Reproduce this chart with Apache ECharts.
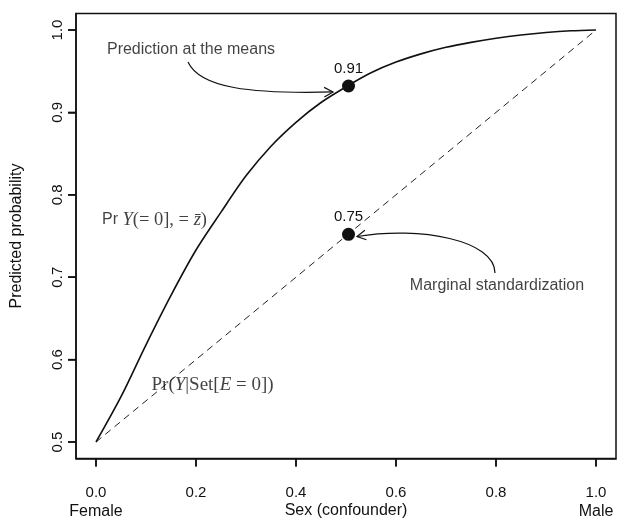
<!DOCTYPE html>
<html>
<head>
<meta charset="utf-8">
<script src="https://cdn.jsdelivr.net/npm/echarts@6/dist/echarts.min.js"></script>
<style>html,body{margin:0;padding:0;background:#fff}#c{width:617px;height:524px}</style>
</head>
<body>
<div id="c"></div>
<script>
// ---- data ----
const xTicks = [0, 0.2, 0.4, 0.6, 0.8, 1.0];
const yTicks = [0.5, 0.6, 0.7, 0.8, 0.9, 1.0];
const xEndNames = ['Female', 'Male'];
const curveX = [0, 0.05, 0.10, 0.15, 0.20, 0.25, 0.30, 0.35, 0.40, 0.45, 0.50, 0.55, 0.60, 0.65, 0.70, 0.75, 0.80, 0.85, 0.90, 0.95, 1.00];
const curveY = [0.500, 0.555, 0.618, 0.678, 0.733, 0.779, 0.823, 0.859, 0.888, 0.912, 0.931, 0.948, 0.961, 0.971, 0.979, 0.985, 0.990, 0.994, 0.997, 0.999, 1.000];
const diagX = [0, 1];
const diagY = [0.5, 1.0];
const pointX = [0.505, 0.505];
const pointY = [0.932, 0.752];
const pointLabels = ['0.91', '0.75'];
const noteTexts = ['Prediction at the means', 'Marginal standardization', '{s|Pr }{i|Y}{r|(= 0], = }{i|z\u0304}{r|)}', '{r2|Pr(}{i2|Y}{r2||Set[}{i2|E}{r2| = 0])}'];
const noteX = [0.19, 0.802, 0.012, 0.111];
const noteY = [0.9757, 0.6893, 0.7694, 0.5692];
const noteAlign = ['center', 'center', 'left', 'left'];
const arrowPaths = [
  [[0.184, 0.9612], [0.208, 0.9296], [0.308, 0.9223], [0.474, 0.9248]],
  [[0.798, 0.7051], [0.798, 0.7451], [0.648, 0.7621], [0.522, 0.7494]]
];

// ---- chart ----
const ink = '#111';
const sans = 'Liberation Sans, Arial, Helvetica, sans-serif';
const serif = 'Liberation Serif, Times New Roman, serif';
const xMin = -0.04, xMax = 1.04, yMin = 0.48, yMax = 1.02;
const chart = echarts.init(document.getElementById('c'), null, {renderer: 'canvas'});

const rich = {
  s: {fontFamily: sans, fontSize: 16, color: ink},
  r: {fontFamily: serif, fontSize: 18.5, color: ink},
  i: {fontFamily: serif, fontSize: 18.5, fontStyle: 'italic', color: ink},
  r2: {fontFamily: serif, fontSize: 19, color: ink},
  i2: {fontFamily: serif, fontSize: 19, fontStyle: 'italic', color: ink},
  b: {fontFamily: sans, fontSize: 16, color: ink, lineHeight: 20}
};

// tick marks drawn through the axes' scales
const tickItems = xTicks.map(v => [v, yMin, 0]).concat(yTicks.map(v => [xMin, v, 1]));

chart.setOption({
  animation: false,
  backgroundColor: '#fff',
  grid: {left: 76, right: 1, top: 13.5, bottom: 65.5, containLabel: false,
    show: true, borderColor: '#111', borderWidth: 1.5, backgroundColor: 'transparent'},
  xAxis: {
    type: 'value', min: xMin, max: xMax,
    name: 'Sex (confounder)', nameLocation: 'middle', nameGap: 44, nameMoveOverlap: false,
    nameTextStyle: {fontFamily: sans, fontSize: 16, color: ink},
    axisLine: {show: true, onZero: false, lineStyle: {color: '#111', width: 1.5}},
    splitLine: {show: false},
    axisTick: {show: true, inside: false, customValues: xTicks, length: 8, lineStyle: {color: '#111', width: 1.5}},
    axisLabel: {
      customValues: xTicks, margin: 25, fontFamily: sans, fontSize: 15, color: ink, lineHeight: 18,
      formatter: function (v) {
        const t = v.toFixed(1);
        if (Math.abs(v) < 1e-9) return t + '\n{b|' + xEndNames[0] + '}';
        if (Math.abs(v - 1) < 1e-9) return t + '\n{b|' + xEndNames[1] + '}';
        return t;
      },
      rich: rich
    }
  },
  yAxis: {
    type: 'value', min: yMin, max: yMax,
    name: 'Predicted probability', nameLocation: 'middle', nameGap: 51, nameRotate: 90, nameMoveOverlap: false,
    nameTextStyle: {fontFamily: sans, fontSize: 16, color: ink},
    axisLine: {show: true, onZero: false, lineStyle: {color: '#111', width: 1.5}},
    splitLine: {show: false},
    axisTick: {show: true, inside: false, customValues: yTicks, length: 8, lineStyle: {color: '#111', width: 1.5}},
    axisLabel: {customValues: yTicks, rotate: 90, margin: 11, fontFamily: sans, fontSize: 15, color: ink,
      formatter: function (v) { return v.toFixed(1); }}
  },
  series: [
    {
      type: 'line', data: curveX.map((x, i) => [x, curveY[i]]), smooth: 0.3, symbol: 'none',
      lineStyle: {color: '#111', width: 1.6}, z: 3
    },
    {
      type: 'line', data: diagX.map((x, i) => [x, diagY[i]]), symbol: 'none',
      lineStyle: {color: '#222', width: 1, type: [7, 5]}, z: 2
    },
    {
      type: 'scatter', data: pointX.map((x, i) => ({value: [x, pointY[i]], name: pointLabels[i]})),
      symbol: 'circle', symbolSize: 13, itemStyle: {color: '#111', opacity: 1}, z: 5,
      label: {show: true, position: 'top', distance: 3, formatter: '{b}', fontFamily: sans, fontSize: 15, color: ink}
    },
    {
      type: 'scatter', symbolSize: 0, silent: true, z: 6,
      data: noteTexts.map((t, i) => ({
        value: [noteX[i], noteY[i]], name: t,
        label: {show: true, position: 'inside', align: noteAlign[i], verticalAlign: 'middle',
          formatter: t, fontFamily: sans, fontSize: 16, color: ink, rich: rich}
      }))
    },
    {
      type: 'custom', silent: true, z: 4,
      data: arrowPaths.map((p, i) => [p[3][0], p[3][1]]),
      renderItem: function (params, api) {
        const pts = arrowPaths[params.dataIndex].map(p => api.coord(p));
        const p0 = pts[0], c1 = pts[1], c2 = pts[2], p3 = pts[3];
        const ang = Math.atan2(p3[1] - c2[1], p3[0] - c2[0]);
        const L = 10, a = 0.5;
        const h1 = [p3[0] - L * Math.cos(ang - a), p3[1] - L * Math.sin(ang - a)];
        const h2 = [p3[0] - L * Math.cos(ang + a), p3[1] - L * Math.sin(ang + a)];
        return {
          type: 'group',
          children: [
            {type: 'bezierCurve', shape: {x1: p0[0], y1: p0[1], cpx1: c1[0], cpy1: c1[1], cpx2: c2[0], cpy2: c2[1], x2: p3[0], y2: p3[1]},
              style: {stroke: ink, lineWidth: 1.2, fill: null}},
            {type: 'polyline', shape: {points: [h1, p3, h2]}, style: {stroke: ink, lineWidth: 1.2, fill: null}}
          ]
        };
      }
    },
    {
      type: 'custom', silent: true, clip: false, z: 7,
      data: tickItems,
      renderItem: function (params, api) {
        const p = api.coord([api.value(0), api.value(1)]);
        const horizontal = api.value(2) === 1;
        const q = horizontal ? [p[0] - 8, p[1]] : [p[0], p[1] + 8];
        return {type: 'line', shape: {x1: p[0], y1: p[1], x2: q[0], y2: q[1]},
          style: {stroke: '#111', lineWidth: 1.5}};
      }
    }
  ]
});
</script>
</body>
</html>
